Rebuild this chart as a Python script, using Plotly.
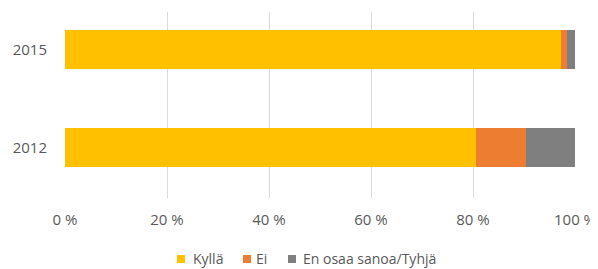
import plotly.graph_objects as go

years = ["2012", "2015"]
kylla = [80.6, 97.3]
ei = [9.8, 1.1]
eos = [9.6, 1.6]
series_names = ["Kyllä", "Ei", "En osaa sanoa/Tyhjä"]
colors = ["#FFC000", "#ED7D31", "#7F7F7F"]
x_ticks = [0, 20, 40, 60, 80, 100]
x_ticktext = ["0 %", "20 %", "40 %", "60 %", "80 %", "100 %"]

fig = go.Figure()
for name, vals, col in zip(series_names, [kylla, ei, eos], colors):
    fig.add_trace(go.Bar(
        y=years, x=vals, name=name, orientation="h",
        marker=dict(color=col, line=dict(width=0)), width=0.40,
        showlegend=False,
    ))

# Legend drawn by hand (page is offset by the browser's 8px body margin)
W, H = 590, 261
L, R, T, B = 57, 23, 4, 71
pw, ph = W - L - R, H - T - B


def px_x(sx):
    return (sx - 8 - L) / pw


def px_y(sy):
    return (H - B - (sy - 8)) / ph


sq_left = [177, 243, 288]
txt_left = [192, 255, 302]
shapes = []
annotations = []
for name, col, sl, tl in zip(series_names, colors, sq_left, txt_left):
    shapes.append(dict(type="rect", xref="paper", yref="paper",
                       x0=px_x(sl), x1=px_x(sl + 8), y0=px_y(263), y1=px_y(255),
                       fillcolor=col, line=dict(width=0)))
    annotations.append(dict(xref="paper", yref="paper", x=px_x(tl - 1), y=px_y(258.5),
                            xanchor="left", yanchor="middle", text=name, showarrow=False,
                            font=dict(size=14, color="#595959")))

font = dict(family="Open Sans, Liberation Sans, sans-serif", size=15, color="#595959")
fig.update_layout(
    width=W, height=H,
    barmode="stack",
    paper_bgcolor="white", plot_bgcolor="white",
    margin=dict(l=L, r=R, t=T, b=B, autoexpand=False),
    font=font,
    showlegend=False,
    shapes=shapes,
    annotations=annotations,
    xaxis=dict(range=[0, 100], tickvals=x_ticks, ticktext=x_ticktext,
               showgrid=True, gridcolor="#D9D9D9", gridwidth=1, zeroline=False,
               showline=False, ticks="outside", ticklen=8, tickcolor="rgba(0,0,0,0)",
               fixedrange=True, automargin=False),
    yaxis=dict(type="category", categoryorder="array", categoryarray=years,
               range=[-0.515, 1.383], showgrid=False, zeroline=False, showline=False,
               ticks="outside", ticklen=14, tickcolor="rgba(0,0,0,0)", automargin=False),
)
fig.write_html("out.html")
